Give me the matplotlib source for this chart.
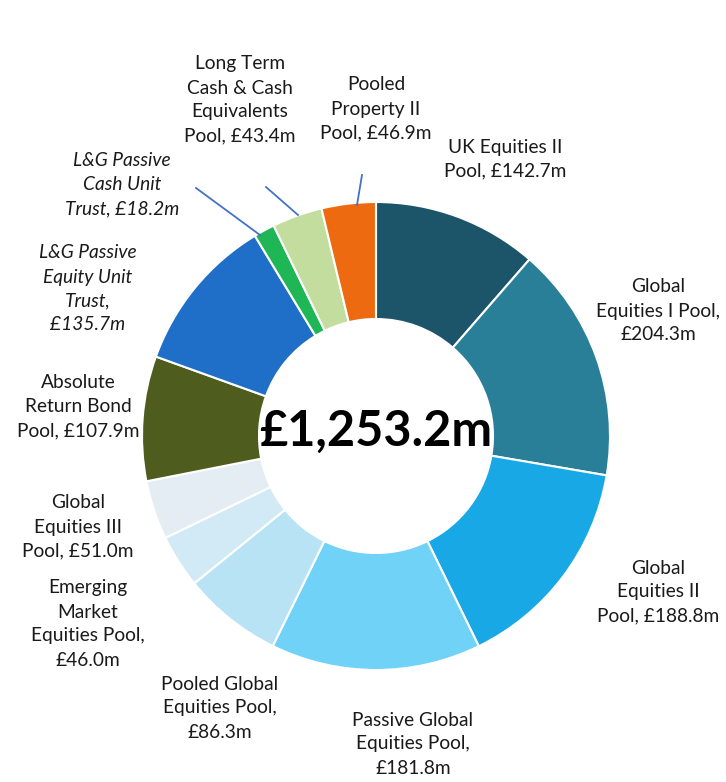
import matplotlib
matplotlib.use("Agg")
import matplotlib.pyplot as plt

W, H = 726, 782

names = ["UK Equities II\nPool", "Global\nEquities I Pool", "Global\nEquities II\nPool",
         "Passive Global\nEquities Pool", "Pooled Global\nEquities Pool",
         "Emerging\nMarket\nEquities Pool", "Global\nEquities III\nPool",
         "Absolute\nReturn Bond\nPool", "L&G Passive\nEquity Unit\nTrust",
         "L&G Passive\nCash Unit\nTrust", "Long Term\nCash & Cash\nEquivalents\nPool",
         "Pooled\nProperty II\nPool"]
values = [142.7, 204.3, 188.8, 181.8, 86.3, 46.0, 51.0, 107.9, 135.7, 18.2, 43.4, 46.9]
total_label = "£1,253.2m"

colors = ["#1c5569", "#2a7f98", "#19a8e6", "#70d2f7", "#b8e3f5", "#d2eaf5", "#e4edf3",
          "#4e5d1d", "#1f6ec8", "#1fb655", "#c3dd9f", "#ee6a10"]

label_text = [
    "UK Equities II\nPool, £142.7m",
    "Global\nEquities I Pool,\n£204.3m",
    "Global\nEquities II\nPool, £188.8m",
    "Passive Global\nEquities Pool,\n£181.8m",
    "Pooled Global\nEquities Pool,\n£86.3m",
    "Emerging\nMarket\nEquities Pool,\n£46.0m",
    "Global\nEquities III\nPool, £51.0m",
    "Absolute\nReturn Bond\nPool, £107.9m",
    "L&G Passive\nEquity Unit\nTrust,\n£135.7m",
    "L&G Passive\nCash Unit\nTrust, £18.2m",
    "Long Term\nCash & Cash\nEquivalents\nPool, £43.4m",
    "Pooled\nProperty II\nPool, £46.9m",
]
label_pos = [(505, 159), (658, 311), (658, 592), (413, 744), (220, 708), (88, 624),
             (78, 527), (78, 407), (88, 289), (122, 185), (240, 100), (376, 109)]
italic = [False]*8 + [True, True] + [False, False]
leaders = {9: ((196, 188), (260, 235)), 10: ((266, 187), (298, 215)), 11: ((362, 175), (357, 205))}

fig = plt.figure(figsize=(W/100, H/100), dpi=100)
ax = fig.add_axes([0, 0, 1, 1])
ax.set_xlim(0, W)
ax.set_ylim(0, H)
ax.set_aspect("equal")
ax.axis("off")

cx, cy, R = 376, 436, 234
ax.pie(values, colors=colors, startangle=90, counterclock=False, center=(cx, H - cy),
       radius=R, wedgeprops=dict(width=R*0.5, edgecolor="white", linewidth=1.5))
ax.set_xlim(0, W)
ax.set_ylim(0, H)

for i, t in enumerate(label_text):
    x, y = label_pos[i]
    ax.text(x, H - y, t, ha="center", va="center", fontsize=13.8, family="Lato",
            style="italic" if italic[i] else "normal", color="#1a1a1a", linespacing=1.5)

for i, (p0, p1) in leaders.items():
    ax.plot([p0[0], p1[0]], [H - p0[1], H - p1[1]], color="#4472c4", lw=1.3)

ax.text(cx, H - 431, total_label, ha="center", va="center", fontsize=35,
        fontweight="bold", family="Lato", color="black")

fig.savefig("out.png", dpi=100)
